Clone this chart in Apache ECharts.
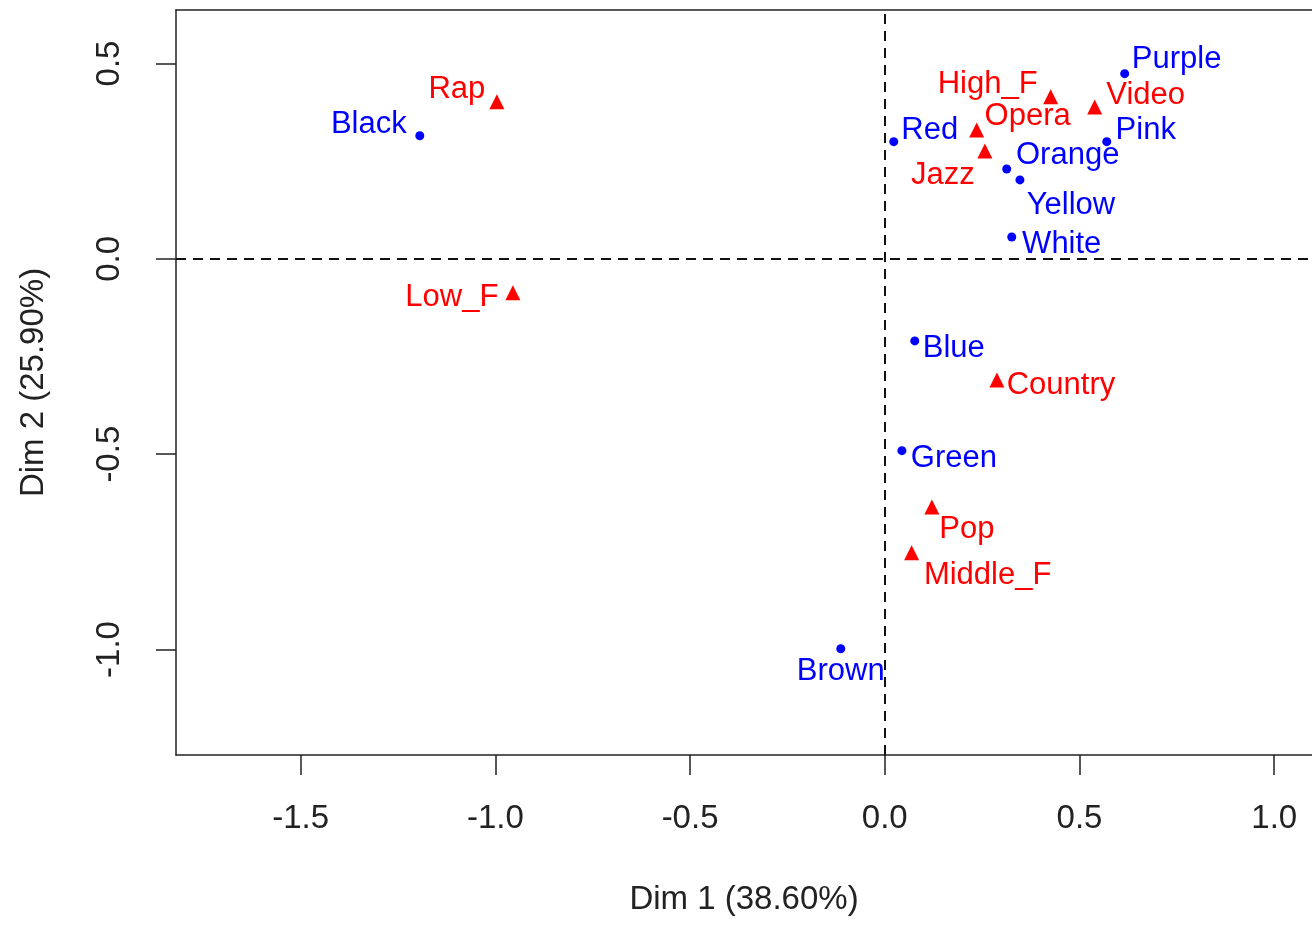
<!DOCTYPE html>
<html>
<head>
<meta charset="utf-8">
<script src="https://cdn.jsdelivr.net/npm/echarts@6/dist/echarts.min.js"></script>
<style>html,body{margin:0;padding:0;background:#fff;}#c{width:1312px;height:926px;}</style>
</head>
<body>
<div id="c"></div>
<script>
// Column categories (colours) - blue points
const colNames = ['Black','Purple','Pink','Red','Orange','Yellow','White','Blue','Green','Brown'];
const colX = [-1.194, 0.616, 0.570, 0.023, 0.313, 0.347, 0.326, 0.077, 0.044, -0.113];
const colY = [0.315, 0.474, 0.300, 0.300, 0.230, 0.202, 0.056, -0.210, -0.491, -0.998];
// Row categories (music) - red triangles
const rowNames = ['Rap','Low_F','High_F','Video','Opera','Jazz','Country','Pop','Middle_F'];
const rowX = [-0.996, -0.955, 0.426, 0.539, 0.236, 0.257, 0.288, 0.121, 0.069];
const rowY = [0.402, -0.087, 0.415, 0.389, 0.330, 0.276, -0.310, -0.635, -0.752];
// Tick labels
const xTicks = [-1.5, -1.0, -0.5, 0.0, 0.5, 1.0];
const yTicks = [-1.0, -0.5, 0.0, 0.5];
const xTitle = 'Dim 1 (38.60%)';
const yTitle = 'Dim 2 (25.90%)';

// label offsets (pixels, relative to the point) - styling only
const labelOffsets = {
  Black:[-51,-11], Purple:[52,-14], Pink:[39,-11], Red:[36,-11], Orange:[61,-14],
  Yellow:[51,26], White:[50,7], Blue:[39,8], Green:[52,8], Brown:[0,23],
  Rap:[-40,-12], Low_F:[-61,5], High_F:[-63,-12], Video:[51,-11], Opera:[51,-13],
  Jazz:[-42,24], Country:[64,5], Pop:[35,23], Middle_F:[76,23]
};

const FONT = 'Liberation Sans, Arial, Helvetica, sans-serif';
const XMIN = -1.82, XMAX = 1.097;

function mk(names, xs, ys) {
  return names.map((n, i) => ({ name: n, value: [xs[i], ys[i]] }));
}
function layoutFor(names) {
  return function (params) {
    const o = labelOffsets[names[params.dataIndex]] || [0, 0];
    return { dx: o[0], dy: o[1], hideOverlap: false };
  };
}

const chart = echarts.init(document.getElementById('c'), null, {renderer: 'canvas'});
chart.setOption({
  animation: false,
  backgroundColor: '#ffffff',
  grid: { left: 176, top: 10, bottom: 171, right: 0, show: false },
  xAxis: [{
    type: 'value', min: XMIN, max: XMAX, position: 'bottom',
    name: xTitle, nameLocation: 'middle', nameGap: 128,
    nameTextStyle: { color: '#222', fontSize: 33, fontFamily: FONT },
    axisLine: { show: true, onZero: false, lineStyle: { color: '#222', width: 1.5 } },
    splitLine: { show: false },
    axisTick: { show: true, length: 20, customValues: xTicks, lineStyle: { color: '#222', width: 1.5 } },
    axisLabel: { customValues: xTicks, margin: 47, color: '#222', fontSize: 33, fontFamily: FONT,
      formatter: v => v.toFixed(1) }
  }, {
    type: 'value', min: XMIN, max: XMAX, position: 'top',
    axisLine: { show: true, onZero: false, lineStyle: { color: '#222', width: 1.5 } },
    axisTick: { show: false }, axisLabel: { show: false }, splitLine: { show: false }
  }],
  yAxis: {
    type: 'value', min: -1.27, max: 0.637,
    name: yTitle, nameLocation: 'middle', nameGap: 126, nameRotate: 90,
    nameTextStyle: { color: '#222', fontSize: 33, fontFamily: FONT },
    axisLine: { show: true, onZero: false, lineStyle: { color: '#222', width: 1.5 } },
    splitLine: { show: false },
    axisTick: { show: true, length: 20, customValues: yTicks, lineStyle: { color: '#222', width: 1.5 } },
    axisLabel: { customValues: yTicks, rotate: 90, margin: 50, color: '#222', fontSize: 33, fontFamily: FONT,
      formatter: v => v.toFixed(1) }
  },
  series: [
    {
      type: 'scatter', name: 'lines', data: [], silent: true, z: 1,
      markLine: {
        silent: true, symbol: ['none', 'none'], animation: false,
        label: { show: false },
        lineStyle: { color: '#111', type: [10, 7], width: 2, opacity: 1 },
        data: [{ xAxis: 0 }, { yAxis: 0 }]
      }
    },
    {
      type: 'scatter', name: 'colours', z: 3,
      symbol: 'circle', symbolSize: 9,
      itemStyle: { color: '#0000ff', opacity: 1 },
      label: { show: true, position: 'inside', formatter: p => p.name, opacity: 1,
        color: '#0000ff', fontSize: 31, fontFamily: FONT, align: 'center', verticalAlign: 'middle' },
      labelLayout: layoutFor(colNames),
      data: mk(colNames, colX, colY)
    },
    {
      type: 'scatter', name: 'music', z: 3,
      symbol: 'triangle', symbolSize: 15,
      itemStyle: { color: '#ff0000', opacity: 1 },
      label: { show: true, position: 'inside', formatter: p => p.name, opacity: 1,
        color: '#ff0000', fontSize: 31, fontFamily: FONT, align: 'center', verticalAlign: 'middle' },
      labelLayout: layoutFor(rowNames),
      data: mk(rowNames, rowX, rowY)
    }
  ]
});
</script>
</body>
</html>
